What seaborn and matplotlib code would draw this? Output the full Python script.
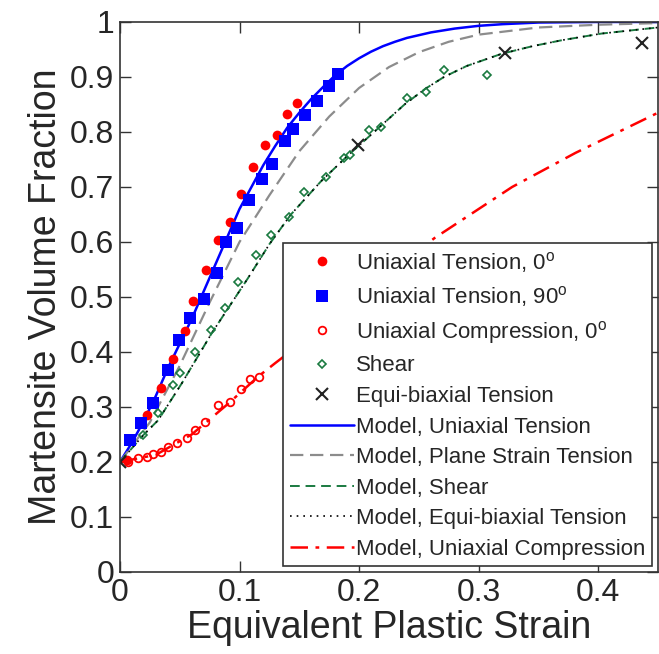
import numpy as np
import matplotlib
matplotlib.use("Agg")
import matplotlib.pyplot as plt
import seaborn as sns

ut0_x = [0.006, 0.023, 0.034, 0.044, 0.054, 0.061, 0.072, 0.082, 0.092, 0.101, 0.111, 0.121, 0.131, 0.140, 0.148]
ut0_y = [0.204, 0.285, 0.335, 0.387, 0.438, 0.493, 0.549, 0.604, 0.636, 0.687, 0.736, 0.776, 0.795, 0.833, 0.853]

ut90_x = [0.008, 0.018, 0.028, 0.040, 0.049, 0.059, 0.070, 0.081, 0.089, 0.098, 0.108, 0.119, 0.127, 0.138,
          0.145, 0.155, 0.165, 0.175, 0.182]
ut90_y = [0.240, 0.271, 0.307, 0.367, 0.422, 0.462, 0.496, 0.543, 0.600, 0.625, 0.676, 0.715, 0.742, 0.784,
          0.805, 0.831, 0.856, 0.884, 0.905]

uc0_x = [0.007, 0.015, 0.023, 0.028, 0.034, 0.040, 0.048, 0.056, 0.063, 0.071, 0.082, 0.092, 0.101, 0.109, 0.116]
uc0_y = [0.200, 0.207, 0.209, 0.215, 0.218, 0.227, 0.235, 0.244, 0.258, 0.273, 0.304, 0.309, 0.333, 0.351, 0.355]

shear_x = [0.019, 0.032, 0.044, 0.050, 0.063, 0.076, 0.088, 0.099, 0.114, 0.126, 0.141, 0.154, 0.172, 0.187,
           0.192, 0.208, 0.218, 0.240, 0.256, 0.271, 0.307]
shear_y = [0.249, 0.289, 0.340, 0.362, 0.400, 0.440, 0.480, 0.527, 0.576, 0.613, 0.645, 0.691, 0.718, 0.753,
           0.758, 0.804, 0.809, 0.862, 0.873, 0.913, 0.904]

eqb_x = [0.0, 0.199, 0.322, 0.437]
eqb_y = [0.200, 0.776, 0.944, 0.962]

# model curves
m_ut_x = [0.0, 0.01, 0.02, 0.03, 0.04, 0.05, 0.06, 0.07, 0.08, 0.09, 0.10, 0.11, 0.12, 0.13, 0.14, 0.15,
          0.16, 0.17, 0.18, 0.19, 0.20, 0.21, 0.22, 0.23, 0.24, 0.26, 0.28, 0.30, 0.32, 0.35, 0.40, 0.45]
m_ut_y = [0.200, 0.235, 0.275, 0.320, 0.370, 0.415, 0.460, 0.510, 0.560, 0.610, 0.660, 0.700, 0.740, 0.775,
          0.808, 0.835, 0.860, 0.882, 0.903, 0.920, 0.934, 0.946, 0.956, 0.964, 0.971, 0.981, 0.988, 0.993,
          0.996, 0.999, 1.0, 1.0]

m_ps_x = [0.0, 0.025, 0.05, 0.075, 0.10, 0.125, 0.15, 0.175, 0.20, 0.225, 0.25, 0.275, 0.30, 0.35, 0.40, 0.45]
m_ps_y = [0.200, 0.272, 0.375, 0.490, 0.600, 0.685, 0.765, 0.828, 0.880, 0.918, 0.945, 0.964, 0.977, 0.990,
          0.995, 0.998]

m_sh_x = [0.0, 0.02, 0.032, 0.052, 0.077, 0.107, 0.125, 0.143, 0.168, 0.191, 0.21, 0.238, 0.255, 0.271, 0.29,
          0.319, 0.345, 0.37, 0.403, 0.45]
m_sh_y = [0.200, 0.250, 0.276, 0.344, 0.435, 0.534, 0.596, 0.650, 0.710, 0.758, 0.795, 0.850, 0.878, 0.900,
          0.920, 0.942, 0.956, 0.967, 0.979, 0.990]

m_eb_x = [0.0, 0.02, 0.032, 0.052, 0.077, 0.107, 0.125, 0.143, 0.168, 0.191, 0.21, 0.238, 0.255, 0.271, 0.29,
          0.319, 0.345, 0.37, 0.403, 0.45]
m_eb_y = [0.200, 0.250, 0.276, 0.344, 0.435, 0.534, 0.596, 0.650, 0.710, 0.758, 0.795, 0.850, 0.878, 0.900,
          0.920, 0.942, 0.956, 0.967, 0.979, 0.990]

m_uc_x = [0.0, 0.03, 0.06, 0.09, 0.116, 0.13, 0.16, 0.20, 0.263, 0.328, 0.381, 0.45]
m_uc_y = [0.200, 0.213, 0.250, 0.305, 0.356, 0.380, 0.430, 0.500, 0.607, 0.700, 0.762, 0.835]

xticks = [0, 0.1, 0.2, 0.3, 0.4]
yticks = [0, 0.1, 0.2, 0.3, 0.4, 0.5, 0.6, 0.7, 0.8, 0.9, 1]

sns.set_style("ticks")
plt.rcParams['font.family'] = ['Liberation Sans', 'DejaVu Sans']
plt.rcParams['mathtext.fontset'] = 'custom'
plt.rcParams['mathtext.rm'] = 'Liberation Sans'

fig = plt.figure(figsize=(6.59, 6.54), dpi=100)
ax = fig.add_axes([0.182, 0.1254, 0.8165, 0.841])

green = '#1a7a40'

# models
sns.lineplot(x=m_ut_x, y=m_ut_y, color='#0000ff', lw=1.8, ax=ax, estimator=None, sort=False,
             label='Model, Uniaxial Tension')
sns.lineplot(x=m_ps_x, y=m_ps_y, color='#8c8c8c', lw=1.6, dashes=(6, 3), ax=ax, estimator=None, sort=False,
             label='Model, Plane Strain Tension')
sns.lineplot(x=m_sh_x, y=m_sh_y, color=green, lw=1.4, dashes=(5, 3), ax=ax, estimator=None, sort=False,
             label='Model, Shear')
sns.lineplot(x=m_eb_x, y=m_eb_y, color='black', lw=1.2, dashes=(1, 3), ax=ax, estimator=None, sort=False,
             label='Model, Equi-biaxial Tension')
sns.lineplot(x=m_uc_x, y=m_uc_y, color='#ff0000', lw=1.8, dashes=(7, 3, 1.5, 3), ax=ax, estimator=None, sort=False,
             label='Model, Uniaxial Compression')

# data
sns.lineplot(x=ut0_x, y=ut0_y, ls='', marker='o', ms=7, mfc='#ff0000', mec='#ff0000', mew=0,
             ax=ax, estimator=None, sort=False, label=r'Uniaxial Tension, 0$^\mathrm{o}$')
sns.lineplot(x=ut90_x, y=ut90_y, ls='', marker='s', ms=8, mfc='#0000ff', mec='#0000ff', mew=0,
             ax=ax, estimator=None, sort=False, label=r'Uniaxial Tension, 90$^\mathrm{o}$')
sns.lineplot(x=uc0_x, y=uc0_y, ls='', marker='o', ms=5.5, mfc='none', mec='#ff0000', mew=1.3,
             ax=ax, estimator=None, sort=False, label=r'Uniaxial Compression, 0$^\mathrm{o}$')
sns.lineplot(x=shear_x, y=shear_y, ls='', marker='D', ms=4.5, mfc='none', mec=green, mew=1.2,
             ax=ax, estimator=None, sort=False, label='Shear')
sns.lineplot(x=eqb_x, y=eqb_y, ls='', marker='x', ms=9, mfc='none', mec='#222222', mew=1.5,
             ax=ax, estimator=None, sort=False, label='Equi-biaxial Tension')

ax.set_xlim(0, 0.45)
ax.set_ylim(0, 1)
ax.set_xticks(xticks)
ax.set_yticks(yticks)
ax.set_xticklabels([f"{t:g}" for t in xticks])
ax.set_yticklabels([f"{t:g}" for t in yticks])
ax.tick_params(direction='in', length=8, width=1, top=True, right=True, labelsize=23, pad=4, color='#333333')
for s in ax.spines.values():
    s.set_color('#333333')
    s.set_linewidth(1.2)

ax.set_xlabel('Equivalent Plastic Strain', fontsize=27, labelpad=2)
ax.set_ylabel('Martensite Volume Fraction', fontsize=27, labelpad=4)

handles, labels = ax.get_legend_handles_labels()
order = [5, 6, 7, 8, 9, 0, 1, 2, 3, 4]
leg = ax.legend([handles[i] for i in order], [labels[i] for i in order], loc='lower right',
                fontsize=16, frameon=True, fancybox=False, framealpha=1, edgecolor='#333333',
                handlelength=2.9, handletextpad=0.1, labelspacing=0.43, borderpad=0.3,
                borderaxespad=0.25, numpoints=1)
leg.get_frame().set_linewidth(1.2)

fig.savefig('out.png', dpi=100)
